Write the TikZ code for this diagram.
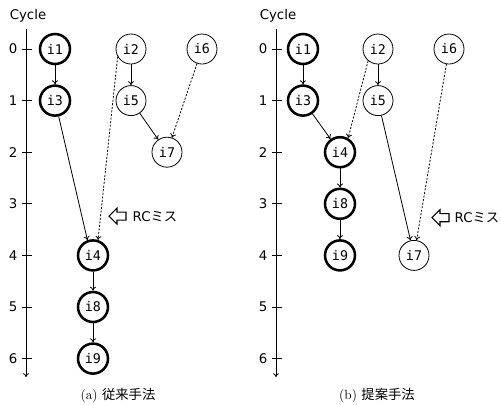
\documentclass[tikz,border=0pt]{standalone}
\usepackage{fontspec}
\setsansfont{DejaVu Sans}
\setmonofont{DejaVu Sans Mono}
\newfontfamily\jpfont{Noto Sans CJK JP}
\usetikzlibrary{arrows.meta}
\begin{document}
\begin{tikzpicture}[x=0.75pt,y=-38.7pt,font=\sffamily,
    ins/.style={circle,draw,line width=0.6pt,minimum size=22.5pt,inner sep=0pt,font=\ttfamily},
    crit/.style={ins,line width=1.9pt},
    dep/.style={-{To[length=3pt,width=4.5pt]},line width=0.6pt},
    late/.style={dep,dash pattern=on 1.5pt off 1.2pt},
    miss/.style={draw,line width=0.8pt,fill=white}]
    \useasboundingbox (0,-0.9496) rectangle (501,6.899);
    % cycle axes
    \foreach \ax in {26,276} {
        \draw [-{To[length=3pt,width=4.5pt]},line width=0.6pt] (\ax,-0.39) -- (\ax,6.36);
        \node (cyc\ax) at (\ax+2,-0.64) {Cycle};
        \foreach \c in {0,...,6} {
            \draw [line width=0.6pt] (\ax-4,\c) -- (\ax+6,\c);
            \node (lbl\ax\c) at (\ax-13,\c) {\c};
        }
    }
    % (a) conventional
    \node [crit] (a1) at (55,0) {i1};
    \node [ins] (a2) at (131,0) {i2};
    \node [ins] (a6) at (202,0) {i6};
    \node [crit] (a3) at (55,1) {i3};
    \node [ins] (a5) at (131,1) {i5};
    \node [ins] (a7) at (167,2) {i7};
    \node [crit] (a4) at (93,4) {i4};
    \node [crit] (a8) at (93,5) {i8};
    \node [crit] (a9) at (93,6) {i9};
    \draw [dep] (a1) -- (a3);
    \draw [dep] (a2) -- (a5);
    \draw [dep] (a5) -- (a7);
    \draw [late] (a6) -- (a7);
    \draw [dep] (a3) -- (a4.110);
    \draw [late] (a2.210) -- (a4.72);
    \draw [dep] (a4) -- (a8);
    \draw [dep] (a8) -- (a9);
    \draw [miss] (109,3.24) -- ++(8,-0.155) -- ++(0,0.077) -- ++(9,0) -- ++(0,0.156) -- ++(-9,0) -- ++(0,0.077) -- cycle;
    \node [anchor=west] (missa) at (128,3.24) {RC{\jpfont ミス}};
    \node (capa) at (118,6.725) {\rmfamily (a) {\jpfont 従来手法}};
    % (b) proposed
    \node [crit] (b1) at (303,0) {i1};
    \node [ins] (b2) at (378,0) {i2};
    \node [ins] (b6) at (449,0) {i6};
    \node [crit] (b3) at (303,1) {i3};
    \node [ins] (b5) at (378,1) {i5};
    \node [crit] (b4) at (340,2) {i4};
    \node [crit] (b8) at (340,3) {i8};
    \node [crit] (b9) at (340,4) {i9};
    \node [ins] (b7) at (414,4) {i7};
    \draw [dep] (b1) -- (b3);
    \draw [dep] (b2) -- (b5);
    \draw [dep] (b3) -- (b4);
    \draw [late] (b2.230) -- (b4.60);
    \draw [dep] (b4) -- (b8);
    \draw [dep] (b8) -- (b9);
    \draw [dep] (b5) -- (b7);
    \draw [late] (b6) -- (b7);
    \draw [miss] (432,3.27) -- ++(8,-0.155) -- ++(0,0.077) -- ++(9,0) -- ++(0,0.156) -- ++(-9,0) -- ++(0,0.077) -- cycle;
    \node [anchor=west] (missb) at (450,3.27) {RC{\jpfont ミス}};
    \node (capb) at (377,6.725) {\rmfamily (b) {\jpfont 提案手法}};
\end{tikzpicture}
\end{document}
